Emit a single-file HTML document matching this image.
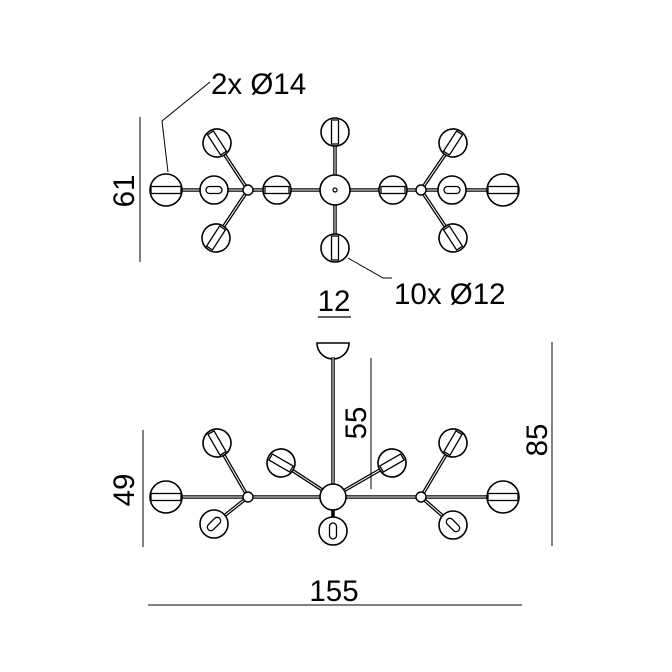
<!DOCTYPE html>
<html><head><meta charset="utf-8"><style>
html,body{margin:0;padding:0;background:#fff;}
svg{display:block;}
text{font-family:"Liberation Sans",sans-serif;fill:#000;}
</style></head><body>
<svg width="672" height="672" viewBox="0 0 672 672" xmlns="http://www.w3.org/2000/svg">
<defs>
<g id="g14"><circle r="16" fill="#fff" stroke="#000" stroke-width="1.6"/><rect x="-15" y="-3.5" width="30" height="7" fill="#fff" stroke="#000" stroke-width="1.3"/></g>
<g id="g12"><circle r="14" fill="#fff" stroke="#000" stroke-width="1.6"/><rect x="-12" y="-3.5" width="24" height="7" fill="#fff" stroke="#000" stroke-width="1.3"/></g>
<g id="g12s"><circle r="14" fill="#fff" stroke="#000" stroke-width="1.6"/><rect x="-8" y="-3.5" width="16" height="7" rx="3.5" fill="#fff" stroke="#000" stroke-width="1.3"/></g>
</defs>
<g stroke="#000" fill="none">
<g stroke-width="3.5"><line x1="166" y1="190" x2="503" y2="190"/><line x1="335" y1="132" x2="335" y2="248"/>
<line x1="248" y1="190" x2="217" y2="143"/><line x1="248" y1="190" x2="216" y2="238"/>
<line x1="421" y1="190" x2="453" y2="143"/><line x1="421" y1="190" x2="453" y2="238"/></g>
<g stroke="#fff" stroke-width="1"><line x1="166" y1="190" x2="503" y2="190"/><line x1="335" y1="132" x2="335" y2="248"/>
<line x1="248" y1="190" x2="217" y2="143"/><line x1="248" y1="190" x2="216" y2="238"/>
<line x1="421" y1="190" x2="453" y2="143"/><line x1="421" y1="190" x2="453" y2="238"/></g>
</g>
<use href="#g14" x="166" y="190"/><use href="#g14" x="503" y="190"/>
<use href="#g12s" x="214" y="190"/><use href="#g12s" x="452" y="190"/>
<use href="#g12" x="277" y="190"/><use href="#g12" x="393" y="190"/>
<use href="#g12" transform="translate(335,132) rotate(90)"/><use href="#g12" transform="translate(335,248) rotate(90)"/>
<use href="#g12" transform="translate(217,143) rotate(57)"/><use href="#g12" transform="translate(216,238) rotate(-57)"/>
<use href="#g12" transform="translate(453,143) rotate(-57)"/><use href="#g12" transform="translate(453,238) rotate(57)"/>
<circle cx="335" cy="190" r="15" fill="#fff" stroke="#000" stroke-width="1.6"/><circle cx="335" cy="190" r="2" fill="#fff" stroke="#000" stroke-width="1.2"/>
<circle cx="248" cy="190" r="5" fill="#fff" stroke="#000" stroke-width="1.4"/><circle cx="421" cy="190" r="5" fill="#fff" stroke="#000" stroke-width="1.4"/>
<g stroke="#000" fill="none" stroke-width="1">
<line x1="140" y1="117" x2="140" y2="262"/>
<polyline points="168,172 162,121 210,82"/>
<polyline points="348,258 383,278 392,278"/>
<line x1="318" y1="317" x2="351" y2="317" stroke-width="1.3"/>
</g>
<text x="211" y="94" font-size="29.5">2x Ø14</text>
<text x="394" y="304" font-size="29.5">10x Ø12</text>
<text x="334" y="311" font-size="29.5" text-anchor="middle">12</text>
<text transform="translate(134,191) rotate(-90)" font-size="29.5" text-anchor="middle">61</text>

<path d="M317,343 L349,343 A16,16 0 0 1 317,343 Z" fill="#fff" stroke="#000" stroke-width="1.6"/>
<g fill="none">
<g stroke="#000" stroke-width="3.5"><line x1="333" y1="357" x2="333" y2="497"/><line x1="166" y1="497" x2="503" y2="497"/>
<line x1="248" y1="497" x2="217" y2="443"/><line x1="248" y1="497" x2="214" y2="524"/>
<line x1="333" y1="497" x2="281" y2="463"/><line x1="333" y1="497" x2="392" y2="463"/><line x1="333" y1="497" x2="333" y2="530"/>
<line x1="421" y1="497" x2="453" y2="443"/><line x1="421" y1="497" x2="453" y2="525"/></g>
<g stroke="#fff" stroke-width="1"><line x1="333" y1="357" x2="333" y2="497"/><line x1="166" y1="497" x2="503" y2="497"/>
<line x1="248" y1="497" x2="217" y2="443"/><line x1="248" y1="497" x2="214" y2="524"/>
<line x1="333" y1="497" x2="281" y2="463"/><line x1="333" y1="497" x2="392" y2="463"/>
<line x1="421" y1="497" x2="453" y2="443"/><line x1="421" y1="497" x2="453" y2="525"/></g>
</g>
<use href="#g14" x="166" y="497"/><use href="#g14" x="503" y="497"/>
<use href="#g12" transform="translate(217,443) rotate(60)"/><use href="#g12s" transform="translate(214,524) rotate(-45)"/>
<use href="#g12" transform="translate(281,463) rotate(30)"/><use href="#g12" transform="translate(392,463) rotate(-30)"/>
<use href="#g12" transform="translate(453,443) rotate(-60)"/><use href="#g12s" transform="translate(453,525) rotate(45)"/>
<use href="#g12s" transform="translate(333,531) rotate(90)"/>
<circle cx="333" cy="497" r="13" fill="#fff" stroke="#000" stroke-width="1.6"/>
<circle cx="248" cy="497" r="5" fill="#fff" stroke="#000" stroke-width="1.4"/><circle cx="421" cy="497" r="5" fill="#fff" stroke="#000" stroke-width="1.4"/>
<g stroke="#000" stroke-width="1">
<line x1="143" y1="430" x2="143" y2="547"/>
<line x1="371" y1="358" x2="371" y2="489"/>
<line x1="552" y1="342" x2="552" y2="546"/>
<line x1="148" y1="605" x2="522" y2="605"/>
</g>
<text transform="translate(134,490) rotate(-90)" font-size="29.5" text-anchor="middle">49</text>
<text transform="translate(366,423) rotate(-90)" font-size="29.5" text-anchor="middle">55</text>
<text transform="translate(547,440) rotate(-90)" font-size="29.5" text-anchor="middle">85</text>
<text x="334" y="601" font-size="29.5" text-anchor="middle">155</text>
</svg>
</body></html>
